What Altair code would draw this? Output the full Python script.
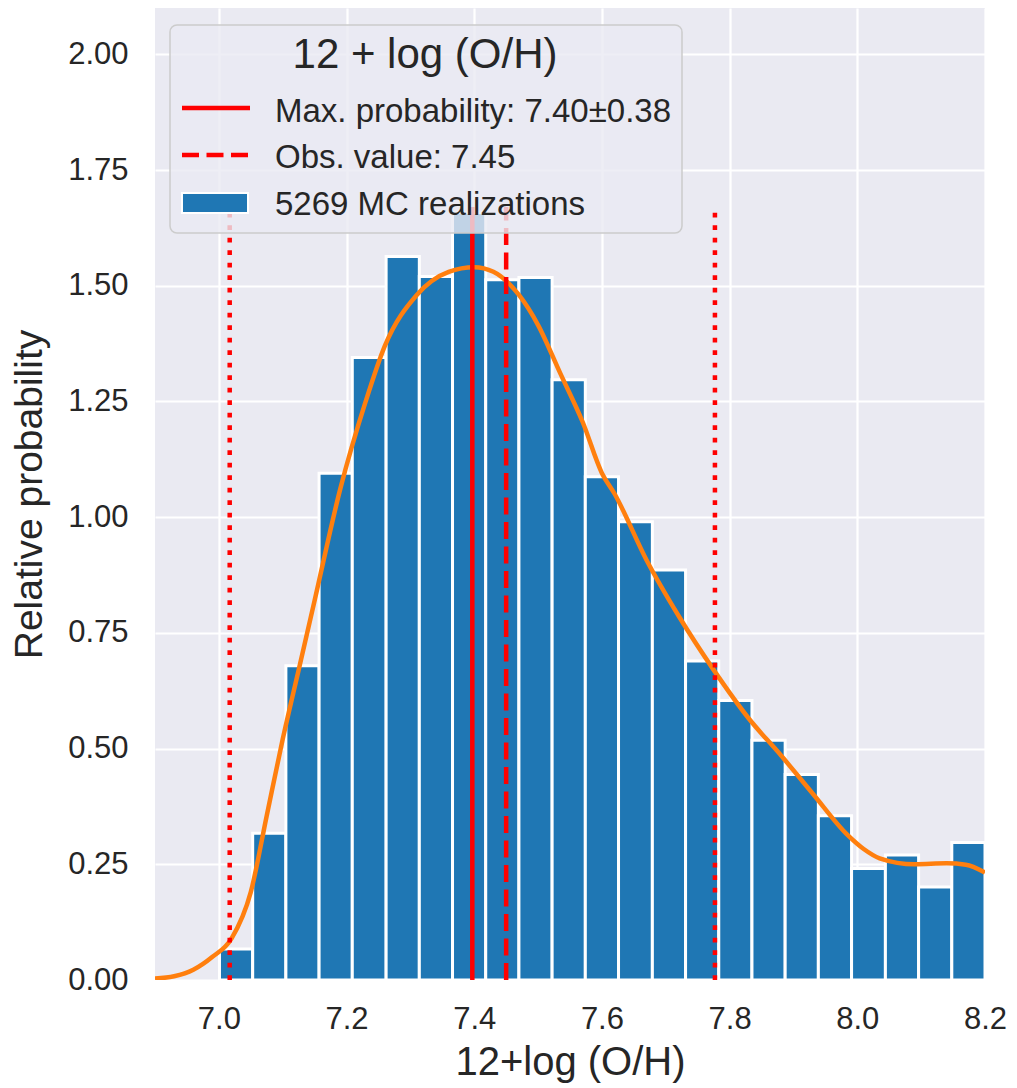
import altair as alt
import pandas as pd

# ---------------- data ----------------
bin_edges = [7.001, 7.053, 7.105, 7.157, 7.209, 7.262, 7.314, 7.366, 7.418,
             7.470, 7.522, 7.574, 7.626, 7.679, 7.731, 7.783, 7.835, 7.887,
             7.939, 7.991, 8.044, 8.096, 8.148, 8.200]
bar_heights = [0.067, 0.317, 0.679, 1.095, 1.345, 1.563, 1.520, 1.658, 1.513,
               1.518, 1.297, 1.087, 0.990, 0.886, 0.689, 0.604, 0.518, 0.444,
               0.355, 0.241, 0.270, 0.201, 0.297]

kde_x = [6.90, 6.93, 6.96, 6.99, 7.02, 7.05, 7.075, 7.10, 7.125, 7.15, 7.19,
         7.23, 7.26, 7.31, 7.36, 7.40, 7.43, 7.47, 7.50, 7.535, 7.57, 7.60,
         7.62, 7.67, 7.72, 7.775, 7.83, 7.88, 7.93, 7.985, 8.01, 8.035, 8.09,
         8.14, 8.17, 8.20]
kde_y = [0.003, 0.008, 0.022, 0.050, 0.090, 0.190, 0.355, 0.520, 0.670, 0.820,
         1.060, 1.250, 1.370, 1.480, 1.530, 1.540, 1.530, 1.480, 1.415, 1.310,
         1.205, 1.095, 1.050, 0.907, 0.787, 0.670, 0.565, 0.486, 0.403, 0.313,
         0.283, 0.263, 0.250, 0.252, 0.249, 0.232]

max_prob = 7.397
max_prob_err = 0.38
obs_value = 7.45
n_realizations = 5269
marker_top = 1.67

x_ticks = [7.0, 7.2, 7.4, 7.6, 7.8, 8.0, 8.2]
y_ticks = [0.0, 0.25, 0.5, 0.75, 1.0, 1.25, 1.5, 1.75, 2.0]

# ---------------- tables ----------------
bars_df = pd.DataFrame({
    "left": bin_edges[:-1],
    "right": bin_edges[1:],
    "height": bar_heights,
})
kde_df = pd.DataFrame({"x": kde_x, "y": kde_y})
solid_df = pd.DataFrame({"x": [max_prob], "y0": [0.0], "y1": [marker_top]})
dash_df = pd.DataFrame({"x": [obs_value], "y0": [0.0], "y1": [marker_top]})
dot_df = pd.DataFrame({"x": [max_prob - max_prob_err, max_prob + max_prob_err],
                       "y0": [0.0, 0.0], "y1": [marker_top, marker_top]})
one = pd.DataFrame({"a": [0]})

FONT = "Liberation Sans"
TXT = "#262626"
RED = "#ff0000"
BLUE = "#1f77b4"
ORANGE = "#ff7f0e"

x_scale = alt.Scale(domain=[6.9, 8.2], nice=False, zero=False)
y_scale = alt.Scale(domain=[0, 2.1], nice=False)

x_axis = alt.Axis(values=x_ticks, format=".1f", title="12+log (O/H)",
                  titleFont=FONT, titleFontSize=40, titleFontWeight="normal",
                  titleColor=TXT, titlePadding=8, labelFlush=False)
y_axis = alt.Axis(values=y_ticks, format=".2f", title="Relative probability",
                  titleFont=FONT, titleFontSize=39, titleFontWeight="normal",
                  titleColor=TXT, titlePadding=18)

bars = alt.Chart(bars_df).mark_bar(
    color=BLUE, stroke="white", strokeWidth=3, clip=True
).encode(
    x=alt.X("left:Q", scale=x_scale, axis=x_axis),
    x2="right:Q",
    y=alt.Y("height:Q", scale=y_scale, axis=y_axis),
    y2=alt.datum(0),
)

kde = alt.Chart(kde_df).mark_line(
    color=ORANGE, strokeWidth=4.5, interpolate="monotone", clip=True
).encode(
    x=alt.X("x:Q", scale=x_scale),
    y=alt.Y("y:Q", scale=y_scale),
)

solid = alt.Chart(solid_df).mark_rule(color=RED, strokeWidth=4.5).encode(
    x=alt.X("x:Q", scale=x_scale), y=alt.Y("y0:Q", scale=y_scale), y2="y1:Q")
dashed = alt.Chart(dash_df).mark_rule(
    color=RED, strokeWidth=4.5, strokeDash=[17, 7.5]).encode(
    x=alt.X("x:Q", scale=x_scale), y=alt.Y("y0:Q", scale=y_scale), y2="y1:Q")
dotted = alt.Chart(dot_df).mark_rule(
    color=RED, strokeWidth=4.5, strokeDash=[4.7, 7.8]).encode(
    x=alt.X("x:Q", scale=x_scale), y=alt.Y("y0:Q", scale=y_scale), y2="y1:Q")

# ---------------- legend (drawn by hand) ----------------
leg_box = alt.Chart(one).mark_rect(
    fill="#EAEAF2", fillOpacity=0.8, stroke="#cccccc", strokeWidth=1.5,
    cornerRadius=7
).encode(x=alt.value(15), x2=alt.value(527), y=alt.value(17), y2=alt.value(225))

leg_title = alt.Chart(one).mark_text(
    align="center", baseline="alphabetic", font=FONT, fontSize=42, color=TXT
).encode(x=alt.value(270), y=alt.value(60), text=alt.value("12 + log (O/H)"))

leg_solid = alt.Chart(one).mark_rule(color=RED, strokeWidth=4.5).encode(
    x=alt.value(27), x2=alt.value(95), y=alt.value(100))
leg_dash = alt.Chart(one).mark_rule(
    color=RED, strokeWidth=4.5, strokeDash=[17, 7.5]).encode(
    x=alt.value(27), x2=alt.value(95), y=alt.value(147))
leg_patch = alt.Chart(one).mark_rect(
    color=BLUE, stroke="white", strokeWidth=2).encode(
    x=alt.value(27), x2=alt.value(93), y=alt.value(185), y2=alt.value(205))

def leg_text(label, ypix):
    return alt.Chart(one).mark_text(
        align="left", baseline="alphabetic", font=FONT, fontSize=33, color=TXT
    ).encode(x=alt.value(120), y=alt.value(ypix), text=alt.value(label))

t1 = leg_text(f"Max. probability: {max_prob:.2f}\u00b1{max_prob_err:.2f}", 114)
t2 = leg_text(f"Obs. value: {obs_value:.2f}", 160)
t3 = leg_text(f"{n_realizations} MC realizations", 207)

chart = alt.layer(
    bars, kde, solid, dashed, dotted,
    leg_box, leg_title, leg_solid, leg_dash, leg_patch, t1, t2, t3
).properties(
    width=830, height=972,
    autosize=alt.AutoSizeParams(type="none"),
    padding={"left": 155, "top": 8, "right": 32, "bottom": 108},
    background="white",
).configure_view(
    fill="#EAEAF2", strokeWidth=0
).configure_axis(
    grid=True, gridColor="white", gridWidth=2.2, domain=False, ticks=False,
    labelFont=FONT, labelFontSize=31, labelColor=TXT,
)
chart = chart.configure_axisX(labelPadding=24)
chart = chart.configure_axisY(labelPadding=27)

chart.save("out.html", embed_options={"renderer": "svg", "actions": False})
